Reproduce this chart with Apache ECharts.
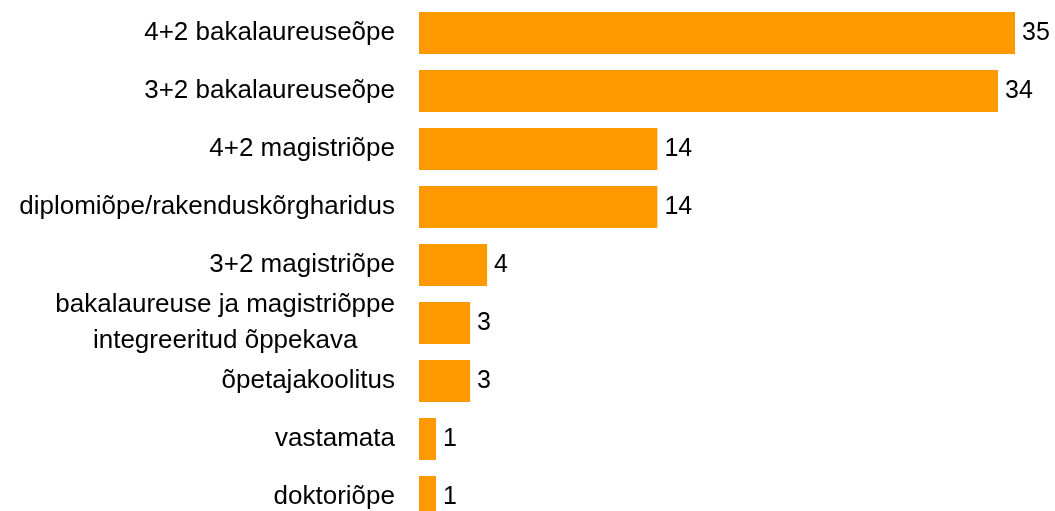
<!DOCTYPE html>
<html>
<head>
<meta charset="utf-8">
<script src="https://cdn.jsdelivr.net/npm/echarts@6/dist/echarts.min.js"></script>
<style>html,body{margin:0;padding:0;background:#fff;}#c{width:1055px;height:511px;}</style>
</head>
<body>
<div id="c"></div>
<script>
const categories = [
  "4+2 bakalaureuseõpe",
  "3+2 bakalaureuseõpe",
  "4+2 magistriõpe",
  "diplomiõpe/rakenduskõrgharidus",
  "3+2 magistriõpe",
  "bakalaureuse ja magistriõppe\nintegreeritud õppekava",
  "õpetajakoolitus",
  "vastamata",
  "doktoriõpe"
];
const values = [35, 34, 14, 14, 4, 3, 3, 1, 1];

const chart = echarts.init(document.getElementById('c'));
const font = "'Liberation Sans', Arial, sans-serif";
chart.setOption({
  animation: false,
  grid: { left: 419, top: 4, width: 596, height: 522, containLabel: false, outerBoundsMode: 'none' },
  xAxis: {
    type: 'value', min: 0, max: 35,
    show: false
  },
  yAxis: {
    type: 'category',
    inverse: true,
    data: categories,
    axisLine: { show: false },
    axisTick: { show: false },
    splitLine: { show: false },
    axisLabel: {
      margin: 24,
      color: '#000',
      fontSize: 26,
      fontFamily: font,
      formatter: function (v) {
        return v.split('\n').map(function (l) { return '{c|' + l + '}'; }).join('\n');
      },
      rich: {
        c: { align: 'center', fontSize: 26, fontFamily: font, color: '#000', lineHeight: 36 }
      }
    }
  },
  series: [{
    type: 'bar',
    data: values,
    barWidth: 42,
    itemStyle: { color: '#FF9900' },
    label: {
      show: true,
      position: 'right',
      distance: 7,
      color: '#000',
      fontSize: 25,
      fontFamily: font
    }
  }]
});
</script>
</body>
</html>
